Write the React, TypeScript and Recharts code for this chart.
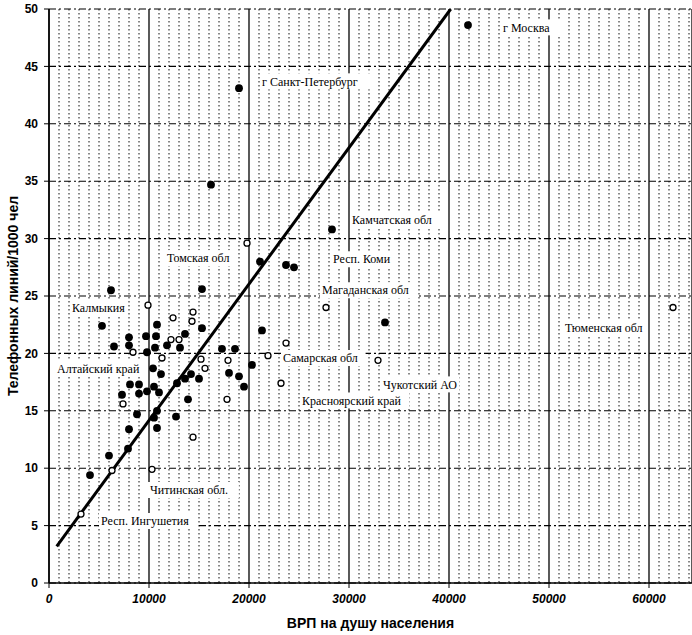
import React from 'react';
import {
  ScatterChart,
  Scatter,
  XAxis,
  YAxis,
  CartesianGrid,
} from 'recharts';

// regions shown as filled dots
const filledX = [6200, 15300, 5300, 10800, 15300, 8000, 9700, 10700, 13600, 21300, 6500, 8000, 9800, 10600, 11800, 13100, 17300, 18600, 10400, 20300, 11200, 14200, 18000, 19000, 13600, 12800, 15000, 8100, 9000, 19500, 7300, 9000, 9800, 10500, 11000, 13900, 8800, 10800, 12700, 10500, 8000, 10800, 7900, 6000, 4100, 19000, 16200, 28300, 21100, 23700, 24500, 33600, 41900];
const filledY = [25.5, 25.6, 22.4, 22.5, 22.2, 21.4, 21.5, 21.5, 21.7, 22.0, 20.6, 20.7, 20.1, 20.5, 20.7, 20.5, 20.4, 20.4, 18.7, 19.0, 18.2, 18.2, 18.3, 18.0, 17.8, 17.4, 17.8, 17.3, 17.3, 17.1, 16.4, 16.5, 16.7, 17.1, 16.6, 16.0, 14.7, 15.0, 14.5, 14.4, 13.4, 13.5, 11.7, 11.1, 9.4, 43.1, 34.7, 30.8, 28.0, 27.7, 27.5, 22.7, 48.6];

// regions shown as open circles
const openX = [9900, 12400, 14400, 14300, 23700, 8400, 12200, 13000, 21900, 11300, 15200, 17900, 15600, 23200, 7400, 17800, 14400, 10300, 6300, 3200, 19800, 27700, 32900, 62400];
const openY = [24.2, 23.1, 23.6, 22.8, 20.9, 20.1, 21.2, 21.2, 19.8, 19.6, 19.5, 19.4, 18.7, 17.4, 15.6, 16.0, 12.7, 9.9, 9.8, 6.0, 29.6, 24.0, 19.4, 24.0];

// regression line ends
const trendX = [770, 40170];
const trendY = [3.2, 50];

const labelNames = ['г  Москва', 'г  Санкт-Петербург', 'Камчатская обл', 'Томская обл', 'Респ. Коми', 'Магаданская обл', 'Калмыкия', 'Тюменская обл', 'Самарская обл', 'Алтайский край', 'Чукотский АО', 'Красноярский край', 'Читинская обл.', 'Респ. Ингушетия'];
const labelX = [45400, 21300, 30300, 11800, 28400, 27300, 2300, 51600, 23400, 800, 33400, 25300, 10100, 5200];
const labelY = [48.4, 43.7, 31.6, 28.3, 28.2, 25.5, 24.0, 22.2, 19.6, 18.7, 17.3, 15.9, 8.1, 5.4];

const X_MAX = 64300;
const xTicks = [0, 10000, 20000, 30000, 40000, 50000, 60000];
const yTicks = [0, 5, 10, 15, 20, 25, 30, 35, 40, 45, 50];
const minorXTicks = Array.from({ length: 65 }, (_, i) => i * 1000).filter((v) => v % 10000 !== 0);

const filled = filledX.map((x, i) => ({ x, y: filledY[i] }));
const open = openX.map((x, i) => ({ x, y: openY[i] }));
const trend = trendX.map((x, i) => ({ x, y: trendY[i] }));
const labels = labelNames.map((text, i) => ({ x: labelX[i], y: labelY[i], text }));

const SANS = 'Liberation Sans, Arial, sans-serif';
const SERIF = 'Liberation Serif, DejaVu Serif, serif';

// minor dotted verticals every 1000
const minorGrid = (args: any) => {
  const { xAxis, offset } = args;
  if (xAxis && typeof xAxis.scale === 'function') {
    return minorXTicks.map((v) => xAxis.scale(v));
  }
  return minorXTicks.map((v) => offset.left + (v / X_MAX) * offset.width);
};

const FilledDot = (props: any) => <circle cx={props.cx} cy={props.cy} r={3.9} fill="#000" />;
const OpenDot = (props: any) => (
  <circle cx={props.cx} cy={props.cy} r={3} fill="#fff" stroke="#000" strokeWidth={1.3} />
);
const NoDot = () => <g />;

const LabelBox = (props: any) => {
  const { cx, cy, payload } = props;
  const w = payload.text.length * 6.2;
  return (
    <g>
      <rect x={cx - 2} y={cy - 8} width={w + 4} height={16} fill="#fff" />
      <text x={cx} y={cy} dy="0.35em" fill="#000" fontFamily={SERIF} fontSize={12}>
        {payload.text}
      </text>
    </g>
  );
};

export default function App() {
  return (
    <div style={{ position: 'fixed', left: 0, top: 0, background: '#fff' }}>
      <ScatterChart width={692} height={635} margin={{ top: 9, right: 0, left: 0, bottom: 0 }}>
        <CartesianGrid
          horizontal={false}
          verticalCoordinatesGenerator={minorGrid}
          stroke="#111"
          strokeDasharray="1.5 2.5"
          strokeWidth={1}
        />
        <CartesianGrid horizontal={false} stroke="#000" strokeWidth={1.3} />
        <CartesianGrid vertical={false} stroke="#000" strokeDasharray="7 3 2 3" strokeWidth={1.1} />
        <XAxis
          type="number"
          dataKey="x"
          domain={[0, X_MAX]}
          ticks={xTicks}
          allowDataOverflow
          height={52}
          axisLine={{ stroke: '#000', strokeWidth: 1.5 }}
          tickLine={{ stroke: '#000' }}
          tickSize={5}
          tickMargin={6}
          tick={{ fontSize: 12, fontStyle: 'italic', fontWeight: 'bold', fill: '#000', fontFamily: SANS }}
          label={{
            value: 'ВРП на душу населения',
            position: 'insideBottom',
            offset: 7,
            style: { fontSize: 14, fontWeight: 'bold', fill: '#000', fontFamily: SANS },
          }}
        />
        <YAxis
          type="number"
          dataKey="y"
          domain={[0, 50]}
          ticks={yTicks}
          allowDataOverflow
          width={49}
          axisLine={{ stroke: '#000', strokeWidth: 1.5 }}
          tickLine={{ stroke: '#000' }}
          tickSize={5}
          tickMargin={6}
          tick={{ fontSize: 12, fontWeight: 'bold', fill: '#000', fontFamily: SANS }}
          label={{
            value: 'Телефонных линий/1000 чел',
            angle: -90,
            position: 'insideLeft',
            offset: 13,
            style: { fontSize: 14, fontWeight: 'bold', fill: '#000', fontFamily: SANS, textAnchor: 'middle' },
          }}
        />
        <Scatter data={labels} shape={LabelBox} isAnimationActive={false} />
        <Scatter
          data={trend}
          line={{ stroke: '#000', strokeWidth: 3 }}
          shape={NoDot}
          isAnimationActive={false}
        />
        <Scatter data={open} shape={OpenDot} isAnimationActive={false} />
        <Scatter data={filled} shape={FilledDot} isAnimationActive={false} />
      </ScatterChart>
    </div>
  );
}
